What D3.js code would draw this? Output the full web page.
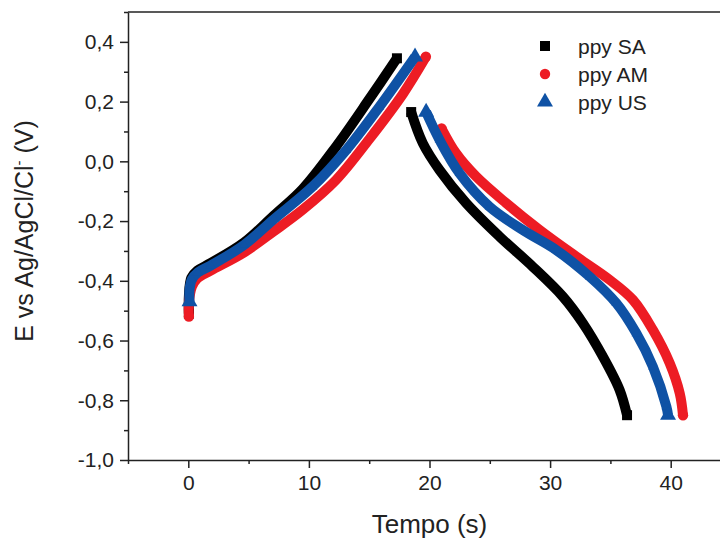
<!DOCTYPE html>
<html>
<head>
<meta charset="utf-8">
<script src="https://d3js.org/d3.v7.min.js"></script>
<style>
  body { margin: 0; background: #fff; }
  text { font-family: "Liberation Sans", Arial, sans-serif; fill: #222; }
</style>
</head>
<body>
<div id="chart"></div>
<script>
// series names / colours
var seriesNames = ["ppy SA", "ppy AM", "ppy US"];

// [tempo (s), E (V)]
var saCharge = [[0.05, -0.51], [0.05, -0.45], [0.25, -0.39], [0.75, -0.366], [1.85, -0.341], [4.62, -0.272],
    [7.1, -0.181], [9.49, -0.092], [12.26, 0.050], [15.0, 0.208], [17.3, 0.345]];
var saDischarge = [[18.48, 0.165], [19.44, 0.061], [20.83, -0.029], [23.04, -0.140], [25.81, -0.252], [28.57, -0.353],
    [31.06, -0.453], [32.72, -0.542], [34.38, -0.654], [35.77, -0.766], [36.38, -0.85]];

var amCharge = [[0.05, -0.52], [0.05, -0.475], [0.3, -0.42], [0.75, -0.392], [1.85, -0.366], [4.62, -0.305],
    [7.1, -0.234], [9.49, -0.162], [12.26, -0.062], [15.0, 0.074], [17.8, 0.226], [19.7, 0.35]];
var amDischarge = [[21.0, 0.11], [22.2, 0.027], [23.87, -0.051], [26.36, -0.140], [29.13, -0.230], [32.17, -0.319],
    [34.94, -0.397], [36.87, -0.464], [38.53, -0.565], [39.92, -0.676], [40.75, -0.777], [41.02, -0.85]];

var usCharge = [[0.1, -0.47], [0.1, -0.43], [0.3, -0.395], [0.8, -0.372], [1.85, -0.349], [4.62, -0.280],
    [7.1, -0.194], [10.3, -0.085], [13.1, 0.038], [15.85, 0.183], [18.8, 0.35]];
var usDischarge = [[19.72, 0.165], [20.83, 0.072], [22.49, -0.040], [24.98, -0.152], [27.74, -0.230], [30.51, -0.297],
    [33.28, -0.386], [35.49, -0.475], [37.15, -0.576], [38.53, -0.688], [39.64, -0.821], [39.78, -0.85]];

// tick values
var xTicks = [0, 10, 20, 30, 40];
var xMinor = [-5, 5, 15, 25, 35, 45];
var yTicks = [-1.0, -0.8, -0.6, -0.4, -0.2, 0.0, 0.2, 0.4];
var yMinor = [-0.9, -0.7, -0.5, -0.3, -0.1, 0.1, 0.3, 0.5];

var svgWidth = 720;
var svgHeight = 538;

var svg = d3.select("#chart")
    .append("svg")
    .attr("width", svgWidth)
    .attr("height", svgHeight);

// Step 1: scales
var xScale = d3.scaleLinear().domain([-5, 45]).range([128, 731]);
var yScale = d3.scaleLinear().domain([-1.0, 0.5]).range([460, 12]);

var comma = function (d) { return d3.format(".1f")(d).replace(".", ",").replace("−", "-"); };

// Step 2: axes (minor first, then major with labels)
svg.append("g")
    .attr("transform", "translate(0,460)")
    .call(d3.axisBottom(xScale).tickValues(xMinor).tickSize(4).tickFormat("").tickSizeOuter(0))
    .call(g => g.select(".domain").remove());

svg.append("g")
    .attr("transform", "translate(128,0)")
    .call(d3.axisLeft(yScale).tickValues(yMinor).tickSize(4).tickFormat("").tickSizeOuter(0))
    .call(g => g.select(".domain").remove());

var xAxisG = svg.append("g")
    .attr("transform", "translate(0,460)")
    .call(d3.axisBottom(xScale).tickValues(xTicks).tickSize(8).tickSizeOuter(0).tickPadding(7));

var yAxisG = svg.append("g")
    .attr("transform", "translate(128,0)")
    .call(d3.axisLeft(yScale).tickValues(yTicks).tickSize(8).tickSizeOuter(0).tickPadding(6).tickFormat(comma));

svg.selectAll(".tick line").attr("stroke", "#222").attr("stroke-width", 1.5);
svg.selectAll(".domain").attr("stroke", "#222").attr("stroke-width", 1.5);
svg.selectAll(".tick text")
    .attr("font-size", 21)
    .attr("font-family", "Liberation Sans, Arial, sans-serif")
    .attr("fill", "#2a2a2a");

// top + right frame
svg.append("line")
    .attr("x1", xScale(-5)).attr("x2", xScale(45))
    .attr("y1", yScale(0.5)).attr("y2", yScale(0.5))
    .attr("stroke", "#222").attr("stroke-width", 1.5);
svg.append("line")
    .attr("x1", xScale(45)).attr("x2", xScale(45))
    .attr("y1", yScale(0.5)).attr("y2", yScale(-1.0))
    .attr("stroke", "#222").attr("stroke-width", 1.5);

// Step 3: data
var series = [
    { name: seriesNames[0], color: "#000000", symbol: d3.symbolSquare, size: 100, parts: [saCharge, saDischarge] },
    { name: seriesNames[1], color: "#ed1c24", symbol: d3.symbolCircle, size: 85, parts: [amCharge, amDischarge] },
    { name: seriesNames[2], color: "#0f52a5", symbol: d3.symbolTriangle, size: 110, parts: [usCharge, usDischarge] }
];

var line = d3.line()
    .x(d => xScale(d[0]))
    .y(d => yScale(d[1]))
    .curve(d3.curveCatmullRom.alpha(0.5));

var plot = svg.append("g");

series.forEach(function (s) {
    s.parts.forEach(function (pts) {
        plot.append("path")
            .datum(pts)
            .attr("d", line)
            .attr("fill", "none")
            .attr("stroke", s.color)
            .attr("stroke-width", 10);

        // markers: full size at the ends, small (hidden in the band) elsewhere
        plot.selectAll(null)
            .data(pts)
            .enter()
            .append("path")
            .attr("transform", d => `translate(${xScale(d[0])},${yScale(d[1])})`)
            .attr("d", function (d, i) {
                var big = i === 0 || i === pts.length - 1;
                return d3.symbol().type(s.symbol).size(big ? s.size : 40)();
            })
            .attr("fill", s.color);
    });
});

// Step 4: legend
var legend = svg.append("g");
series.forEach(function (s, i) {
    legend.append("path")
        .attr("transform", `translate(545,${46 + i * 28})`)
        .attr("d", d3.symbol().type(s.symbol).size(s.size))
        .attr("fill", s.color);
    legend.append("text")
        .attr("x", 578)
        .attr("y", 54 + i * 28)
        .attr("font-size", 21)
        .attr("fill", "#333")
        .text(s.name);
});

// Step 5: axis titles
svg.append("text")
    .attr("x", xScale(20))
    .attr("y", 533)
    .attr("text-anchor", "middle")
    .attr("font-size", 26)
    .attr("fill", "#333")
    .text("Tempo (s)");

var yTitle = svg.append("text")
    .attr("transform", "translate(33,231) rotate(-90)")
    .attr("text-anchor", "middle")
    .attr("font-size", 25)
    .attr("fill", "#333");
yTitle.append("tspan").text("E vs Ag/AgCl/Cl");
yTitle.append("tspan").attr("dy", -9).attr("font-size", 15).text("-");
yTitle.append("tspan").attr("dy", 9).text(" (V)");
</script>
</body>
</html>
